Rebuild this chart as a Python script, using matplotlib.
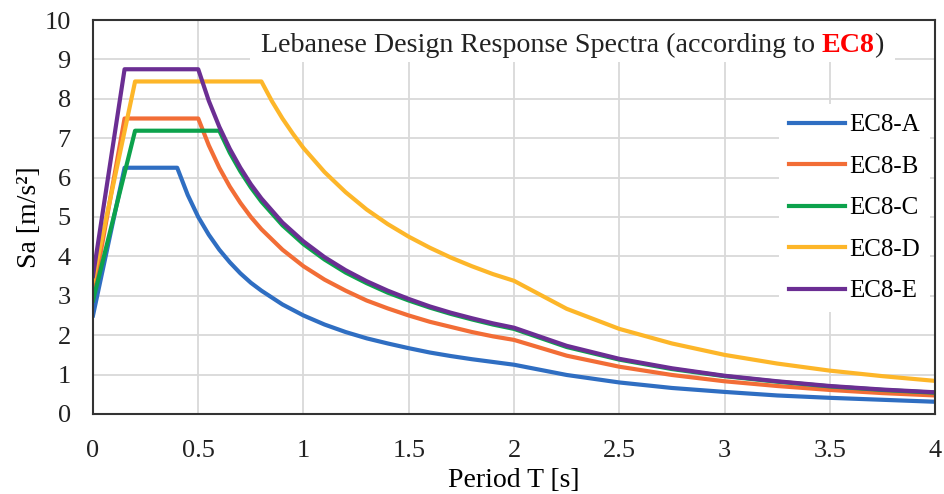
import matplotlib.pyplot as plt

plt.rcParams['font.family'] = ['Liberation Serif', 'DejaVu Serif']

# Period [s] and spectral acceleration Sa [m/s2]
t_a = [0, 0.15, 0.4, 0.45, 0.5, 0.55, 0.6, 0.65, 0.7, 0.75, 0.8, 0.9, 1.0, 1.1, 1.2, 1.3, 1.4,
       1.5, 1.6, 1.7, 1.8, 1.9, 2.0, 2.25, 2.5, 2.75, 3.0, 3.25, 3.5, 3.75, 4.0]
sa_a = [2.5, 6.25, 6.25, 5.56, 5.0, 4.55, 4.17, 3.85, 3.57, 3.33, 3.13, 2.78, 2.5, 2.27, 2.08, 1.92, 1.79,
        1.67, 1.56, 1.47, 1.39, 1.32, 1.25, 0.99, 0.80, 0.66, 0.56, 0.47, 0.41, 0.36, 0.31]

t_b = [0, 0.15, 0.5, 0.55, 0.6, 0.65, 0.7, 0.75, 0.8, 0.9, 1.0, 1.1, 1.2, 1.3, 1.4,
       1.5, 1.6, 1.7, 1.8, 1.9, 2.0, 2.25, 2.5, 2.75, 3.0, 3.25, 3.5, 3.75, 4.0]
sa_b = [3.0, 7.5, 7.5, 6.82, 6.25, 5.77, 5.36, 5.0, 4.69, 4.17, 3.75, 3.41, 3.13, 2.88, 2.68,
        2.5, 2.34, 2.21, 2.08, 1.97, 1.88, 1.48, 1.2, 0.99, 0.83, 0.71, 0.61, 0.53, 0.47]

t_c = [0, 0.2, 0.6, 0.65, 0.7, 0.75, 0.8, 0.9, 1.0, 1.1, 1.2, 1.3, 1.4,
       1.5, 1.6, 1.7, 1.8, 1.9, 2.0, 2.25, 2.5, 2.75, 3.0, 3.25, 3.5, 3.75, 4.0]
sa_c = [2.88, 7.19, 7.19, 6.63, 6.16, 5.75, 5.39, 4.79, 4.31, 3.92, 3.59, 3.32, 3.08,
        2.88, 2.70, 2.54, 2.40, 2.27, 2.16, 1.70, 1.38, 1.14, 0.96, 0.82, 0.70, 0.61, 0.54]

t_d = [0, 0.2, 0.8, 0.85, 0.9, 0.95, 1.0, 1.1, 1.2, 1.3, 1.4,
       1.5, 1.6, 1.7, 1.8, 1.9, 2.0, 2.25, 2.5, 2.75, 3.0, 3.25, 3.5, 3.75, 4.0]
sa_d = [3.38, 8.44, 8.44, 7.94, 7.5, 7.11, 6.75, 6.14, 5.63, 5.19, 4.82,
        4.5, 4.22, 3.97, 3.75, 3.55, 3.38, 2.67, 2.16, 1.79, 1.5, 1.28, 1.10, 0.96, 0.84]

t_e = [0, 0.15, 0.5, 0.55, 0.6, 0.65, 0.7, 0.75, 0.8, 0.9, 1.0, 1.1, 1.2, 1.3, 1.4,
       1.5, 1.6, 1.7, 1.8, 1.9, 2.0, 2.25, 2.5, 2.75, 3.0, 3.25, 3.5, 3.75, 4.0]
sa_e = [3.5, 8.75, 8.75, 7.95, 7.29, 6.73, 6.25, 5.83, 5.47, 4.86, 4.38, 3.98, 3.65, 3.37, 3.13,
        2.92, 2.73, 2.57, 2.43, 2.30, 2.19, 1.73, 1.4, 1.16, 0.97, 0.83, 0.71, 0.62, 0.55]

series = [
    ('EC8-A', t_a, sa_a, '#2F6EC2'),
    ('EC8-B', t_b, sa_b, '#F26D36'),
    ('EC8-C', t_c, sa_c, '#0CA24C'),
    ('EC8-D', t_d, sa_d, '#FDB629'),
    ('EC8-E', t_e, sa_e, '#6B2E93'),
]

fig = plt.figure(figsize=(9.44, 4.94), dpi=100)
ax = fig.add_axes([0.0985, 0.162, 0.892, 0.7975])

for name, t, sa, col in series:
    ax.plot(t, sa, color=col, lw=3.0, label=name, solid_joinstyle='round')

ax.set_xlim(0, 4)
ax.set_ylim(0, 10)
ax.set_xticks([0, 0.5, 1, 1.5, 2, 2.5, 3, 3.5, 4])
ax.set_xticklabels(['0', '0.5', '1', '1.5', '2', '2.5', '3', '3.5', '4'])
ax.set_yticks(range(0, 11))
ax.grid(True, color='#D9D9D9', lw=1.3)
ax.set_axisbelow(True)
ax.tick_params(length=0, labelsize=19, colors='#222222')
ax.tick_params(axis='x', pad=19)
ax.tick_params(axis='y', pad=16)
for s in ax.spines.values():
    s.set_color('#333333')
    s.set_linewidth(1.5)

ax.set_xlabel('Period T [s]', fontsize=20, labelpad=4)
ax.set_ylabel('Sa [m/s²]', fontsize=20, labelpad=2)

# title inside the plot, "EC8" in red bold
t1 = ax.text(0.199, 0.935, 'Lebanese Design Response Spectra (according to ', transform=ax.transAxes,
             fontsize=20.2, va='center', ha='left', color='#222222', zorder=3)
t2 = ax.annotate('EC8', xy=(1, 0), xycoords=t1, va='bottom', ha='left', fontsize=20.2,
                 color='#FF0000', fontweight='bold', zorder=3)
ax.annotate(')', xy=(1, 0), xycoords=t2, va='bottom', ha='left', fontsize=20.2,
            color='#222222', zorder=3)
# white box behind the title
ax.add_patch(plt.Rectangle((0.186, 0.893), 0.766, 0.105, transform=ax.transAxes,
                           facecolor='white', edgecolor='none', zorder=1.5))

leg = ax.legend(loc='upper right', bbox_to_anchor=(0.994, 0.787), frameon=True, fontsize=18,
                handlelength=2.25, labelspacing=0.76, handletextpad=0.15, borderaxespad=0,
                borderpad=0.4)
leg.get_frame().set_edgecolor('none')
leg.get_frame().set_facecolor('white')
leg.get_frame().set_alpha(1)

fig.savefig('out.png', dpi=100)
